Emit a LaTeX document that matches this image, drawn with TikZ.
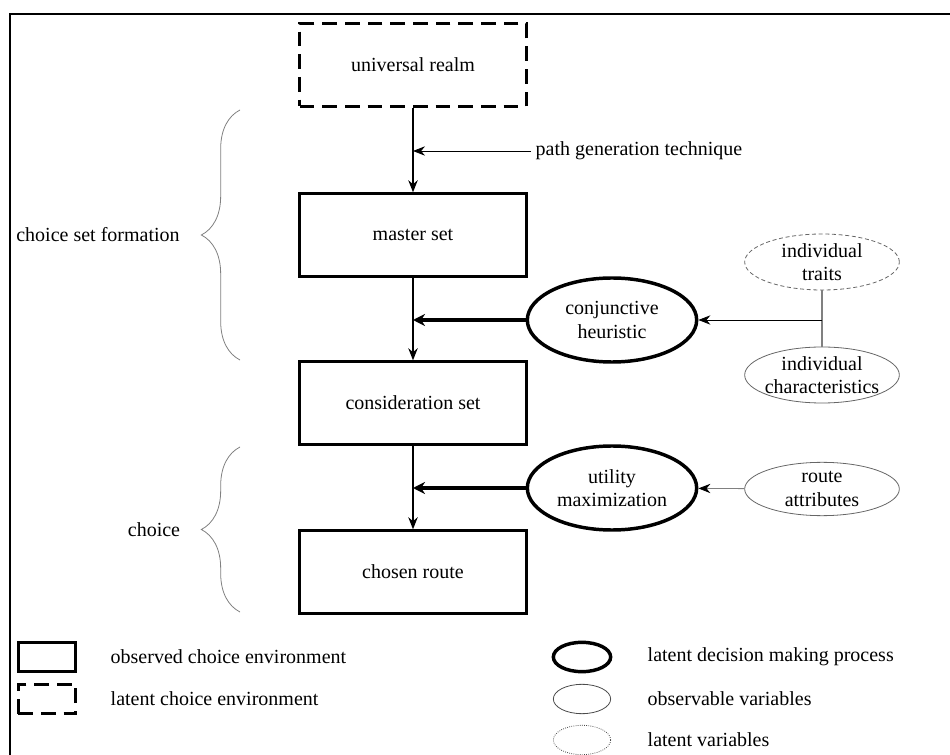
\documentclass[tikz,border=0pt]{standalone}
\usepackage{fontspec}
\setmainfont{Liberation Serif}
\usetikzlibrary{arrows.meta, positioning, shapes.geometric, decorations.pathreplacing}

\begin{document}
\begin{tikzpicture}[x=0.75pt, y=-0.75pt, font=\fontsize{15}{17.5}\selectfont,
    envbox/.style={draw, line width=2pt, minimum width=170pt, minimum height=62pt},
    latentbox/.style={envbox, dash pattern=on 11pt off 6pt},
    process/.style={ellipse, draw, line width=2.6pt, minimum width=127pt, minimum height=63pt,
        align=center, inner xsep=-6pt, inner ysep=-3pt},
    obsvar/.style={ellipse, draw=black!60, line width=0.6pt, minimum width=116pt, minimum height=42pt,
        align=center, inner xsep=-8pt, inner ysep=-4pt},
    latvar/.style={obsvar, densely dashed},
    flow/.style={line width=2pt, -{Stealth[length=9pt, width=7pt]}},
    heavyflow/.style={line width=3.5pt, -{Stealth[length=9pt, width=9pt]}},
    thinflow/.style={line width=0.6pt, -{Stealth[length=9pt, width=7pt, color=black]}},
    curly/.style={draw=gray, line width=0.6pt, decorate, decoration={brace, amplitude=29pt}}
]
\useasboundingbox (0,0) rectangle (950,755);
\draw[line width=1.2pt] (10,760) -- (10,14) -- (955,14);

% choice environment
\node[latentbox] (univ) at (413,65) {universal realm};
\node[envbox] (master) at (413,235) {master set};
\node[envbox] (consid) at (413,403) {consideration set};
\node[envbox] (chosen) at (413,572) {chosen route};

\draw[flow] (univ) -- (master);
\draw[flow] (master) -- (consid);
\draw[flow] (consid) -- (chosen);

\node[anchor=west] (pathgen) at (531,151) {path generation technique};
\draw[thinflow] (pathgen.west) -- (pathgen.west -| univ.south);

% decision processes
\node[process] (conj) at (612,320) {conjunctive\\heuristic};
\node[process] (util) at (612,488) {utility\\maximization};
\draw[heavyflow] (conj.west) -- (conj.west -| master.south);
\draw[heavyflow] (util.west) -- (util.west -| consid.south);

\node[latvar] (traits) at (822,262) {individual\\traits};
\node[obsvar] (charact) at (822,375) {individual\\characteristics};
\node[obsvar, minimum height=40pt] (routeattr) at (822,489) {route\\attributes};
\draw[gray, line width=1pt] (traits) -- (charact);
\draw[thinflow] (traits.south |- conj.east) -- (conj.east);
\draw[thinflow, draw=gray] (routeattr) -- (util);

% braces
\coordinate (fmtop) at (240,110);
\coordinate (fmbot) at (240,360);
\coordinate (chtop) at (240,447);
\coordinate (chbot) at (240,612);
\draw[curly] (fmbot) -- (fmtop);
\draw[curly] (chbot) -- (chtop);
\node (formation) at (98,235) {choice set formation};
\node (choice) at (154,530) {choice};

% legend
\node[envbox, minimum width=43pt, minimum height=22pt] (lgobs) at (47,657) {};
\node[latentbox, minimum width=43pt, minimum height=22pt] (lglat) at (47,699) {};
\node[anchor=west] (lgobstext) at (106,657) {observed choice environment};
\node[anchor=west] (lglattext) at (106,699) {latent choice environment};
\node[process, minimum width=43pt, minimum height=22pt] (lgproc) at (582,657) {};
\node[obsvar, draw=black!70, minimum width=43pt, minimum height=22pt] (lgobsvar) at (582,699) {};
\node[obsvar, draw=black!70, densely dotted, minimum width=43pt, minimum height=22pt] (lglatvar) at (582,740) {};
\node[anchor=west] (lgproctext) at (643,657) {latent decision making process};
\node[anchor=west] (lgobsvartext) at (643,699) {observable variables};
\node[anchor=west] (lglatvartext) at (643,740) {latent variables};
\end{tikzpicture}
\end{document}
